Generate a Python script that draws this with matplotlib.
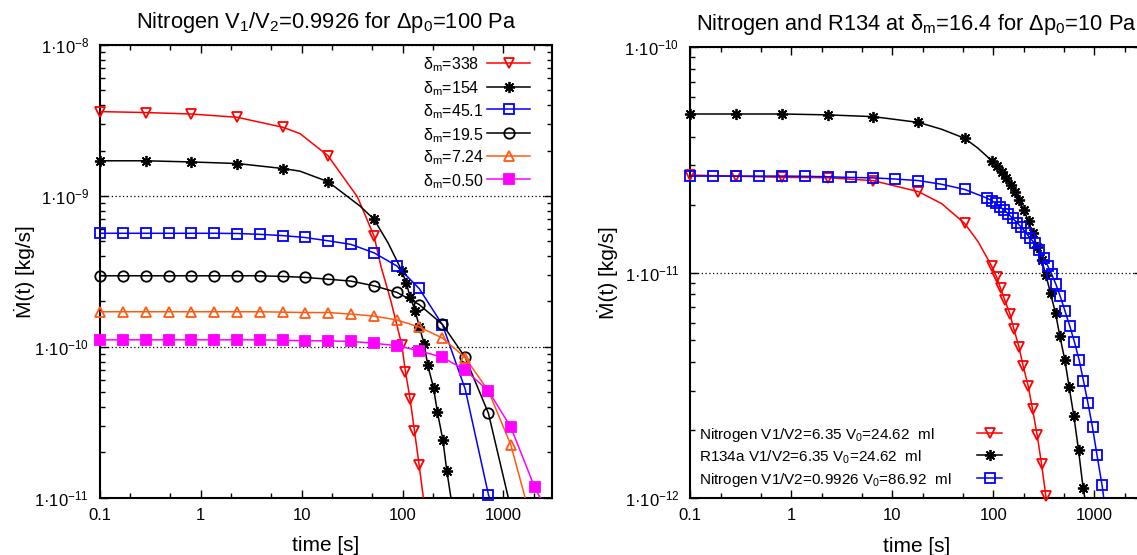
import numpy as np
import matplotlib
matplotlib.use("Agg")
import matplotlib.pyplot as plt
from matplotlib.ticker import LogLocator, NullFormatter

plt.rcParams['font.family'] = ['Liberation Sans', 'DejaVu Sans']
plt.rcParams['mathtext.fontset'] = 'custom'
plt.rcParams['mathtext.rm'] = 'Liberation Sans'
plt.rcParams['mathtext.default'] = 'regular'

# common sampling times of the measurements [s]
t_grid = [0.1, 0.169, 0.284, 0.48, 0.807, 1.36, 2.3, 3.87, 6.52, 10.7,
          18.2, 30.7, 52.2, 87.7, 146, 249, 418, 711, 1186, 2037]
t_even = t_grid[0:13:2]

# ---- left panel: nitrogen, V1/V2=0.9926, dp0=100 Pa
t_338 = t_even + [98.4, 106.9, 118.9, 131.2, 146.2]
m_338 = [3.62e-9, 3.57e-9, 3.49e-9, 3.32e-9, 2.85e-9, 1.85e-9, 5.42e-10,
         1.03e-10, 6.85e-11, 4.50e-11, 2.79e-11, 1.64e-11]

t_154 = t_even + [98.4, 108.6, 118.9, 133.4, 147.2, 163.7, 177.8, 202.8,
                  221.8, 251.2, 274.8]
m_154 = [1.71e-9, 1.71e-9, 1.68e-9, 1.64e-9, 1.52e-9, 1.245e-9, 7.0e-10,
         3.19e-10, 2.66e-10, 2.15e-10, 1.73e-10, 1.355e-10, 1.045e-10,
         7.59e-11, 5.37e-11, 3.69e-11, 2.42e-11, 1.51e-11]

t_451 = t_grid[:18]
m_451 = [5.66e-10, 5.66e-10, 5.66e-10, 5.66e-10, 5.66e-10, 5.66e-10,
         5.64e-10, 5.57e-10, 5.46e-10, 5.31e-10, 5.05e-10, 4.78e-10,
         4.20e-10, 3.44e-10, 2.44e-10, 1.40e-10, 5.26e-11, 1.05e-11]

t_195 = t_grid[:18]
m_195 = [2.96e-10, 2.96e-10, 2.96e-10, 2.96e-10, 2.96e-10, 2.96e-10,
         2.96e-10, 2.96e-10, 2.93e-10, 2.89e-10, 2.81e-10, 2.73e-10,
         2.54e-10, 2.30e-10, 1.91e-10, 1.41e-10, 8.53e-11, 3.63e-11]

t_724 = t_grid[:19]
m_724 = [1.71e-10, 1.71e-10, 1.71e-10, 1.71e-10, 1.71e-10, 1.71e-10,
         1.71e-10, 1.71e-10, 1.70e-10, 1.69e-10, 1.69e-10, 1.65e-10,
         1.60e-10, 1.51e-10, 1.355e-10, 1.145e-10, 8.49e-11, 5.11e-11,
         2.24e-11]

t_050 = t_grid[:20]
m_050 = [1.114e-10, 1.114e-10, 1.114e-10, 1.114e-10, 1.114e-10, 1.114e-10,
         1.114e-10, 1.114e-10, 1.107e-10, 1.10e-10, 1.096e-10, 1.089e-10,
         1.057e-10, 1.019e-10, 9.44e-11, 8.53e-11, 7.03e-11, 5.11e-11,
         2.94e-11, 1.18e-11]

# extra points on the fitted curves where the markers are sparse
fit_338 = ([9.6, 35.7, 61.2, 76.3], [2.59e-9, 9.86e-10, 3.40e-10, 2.04e-10])
fit_154 = ([9.6, 37.9, 72.3], [1.46e-9, 8.57e-10, 4.85e-10])

# time where each fitted curve leaves the bottom of the frame
left_tail = [161, 302, 730, 1120, 1644, 2317]
left_labels = ["δ$_m$=338", "δ$_m$=154", "δ$_m$=45.1", "δ$_m$=19.5",
               "δ$_m$=7.24", "δ$_m$=0.50"]

# ---- right panel: nitrogen and R134a at delta_m=16.4, dp0=10 Pa
t_n2 = t_even + [96.4, 108.1, 118.3, 130.6, 146.6, 160.7, 179.9, 198.2,
                 222.3, 245.5, 272.9, 301.3, 332.7]
m_n2 = [2.70e-11, 2.67e-11, 2.64e-11, 2.63e-11, 2.55e-11, 2.28e-11,
        1.65e-11, 1.07e-11, 9.57e-12, 8.51e-12, 7.53e-12, 6.55e-12,
        5.60e-12, 4.69e-12, 3.85e-12, 3.14e-12, 2.48e-12, 1.90e-12,
        1.42e-12, 1.02e-12]

t_r134 = t_even + [96.4, 108.1, 121.1, 133.7, 148.6, 164.1, 180.7, 201.4,
                   223.9, 245.5, 272.9, 301.3, 332.7, 369.8, 415, 457, 513,
                   565, 630, 701, 778]
m_r134 = [5.035e-11, 5.035e-11, 5.035e-11, 4.99e-11, 4.90e-11, 4.62e-11,
          3.93e-11, 3.13e-11, 2.96e-11, 2.79e-11, 2.63e-11, 2.44e-11,
          2.28e-11, 2.09e-11, 1.89e-11, 1.69e-11, 1.49e-11, 1.30e-11,
          1.14e-11, 9.75e-12, 8.09e-12, 6.59e-12, 5.24e-12, 4.09e-12,
          3.12e-12, 2.31e-12, 1.63e-12, 1.11e-12]

t_n2b = t_grid[:13] + [87.3, 96.4, 106.4, 116.9, 128.2, 141.3, 155.6, 172.2,
                       190.5, 210.9, 233.3, 258.2, 285.8, 316.2, 346.7, 380.2,
                       418.8, 461.3, 512.9, 572.8, 636.8, 711.2, 783.4, 867.0,
                       963.9, 1066, 1199]
m_n2b = [2.673e-11, 2.673e-11, 2.673e-11, 2.673e-11, 2.673e-11, 2.667e-11,
         2.655e-11, 2.636e-11, 2.624e-11, 2.594e-11, 2.553e-11, 2.46e-11,
         2.333e-11, 2.133e-11, 2.080e-11, 2.023e-11, 1.954e-11, 1.892e-11,
         1.816e-11, 1.738e-11, 1.663e-11, 1.585e-11, 1.500e-11, 1.416e-11,
         1.346e-11, 1.259e-11, 1.161e-11, 1.072e-11, 9.82e-12, 8.85e-12,
         7.85e-12, 6.78e-12, 5.81e-12, 4.94e-12, 4.09e-12, 3.32e-12,
         2.65e-12, 2.06e-12, 1.56e-12, 1.14e-12]

fit_n2 = ([30.8, 70.8], [2.02e-11, 1.37e-11])
fit_r134 = ([30.8, 70.8], [4.31e-11, 3.55e-11])

right_tail = [None, 810, 1247]
right_labels = ["Nitrogen V1/V2=6.35 V$_0$=24.62  ml",
                "R134a V1/V2=6.35 V$_0$=24.62  ml",
                "Nitrogen V1/V2=0.9926 V$_0$=86.92  ml"]

x_ticks = [0.1, 1, 10, 100, 1000]
x_tick_labels = ["0.1", "1", "10", "100", "1000"]

left_styles = [
    dict(color="#ff0000", marker="v", mfc="none", ms=7.5),
    dict(color="#000000", marker=(8, 2, 0), ms=8),
    dict(color="#0000ff", marker="s", mfc="none", ms=7.5),
    dict(color="#000000", marker="o", mfc="none", ms=7.5),
    dict(color="#ff5a14", marker="^", mfc="none", ms=7.5),
    dict(color="#ff00ff", marker="s", ms=7),
]
right_styles = [left_styles[0], left_styles[1], left_styles[2]]


def style_axes(ax, ylo, yhi):
    ax.set_xscale("log")
    ax.set_yscale("log")
    ax.set_xlim(0.1, 3000)
    ax.set_ylim(ylo, yhi)
    ax.set_xticks(x_ticks)
    ax.set_xticklabels(x_tick_labels)
    ax.xaxis.set_minor_locator(LogLocator(base=10, subs=(2.0, 5.0), numticks=20))
    ax.xaxis.set_minor_formatter(NullFormatter())
    yt = [10.0 ** e for e in range(int(round(np.log10(ylo))), int(round(np.log10(yhi))) + 1)]
    ax.set_yticks(yt)
    ax.set_yticklabels(["1·10$^{%d}$" % int(round(np.log10(v))) for v in yt])
    ax.yaxis.set_minor_locator(LogLocator(base=10, subs=np.arange(2, 10), numticks=20))
    ax.yaxis.set_minor_formatter(NullFormatter())
    ax.tick_params(which="both", direction="in", top=True, right=True, width=1)
    ax.tick_params(which="major", length=6)
    ax.tick_params(which="minor", length=3.3)
    ax.tick_params(axis="x", labelsize=12, pad=7)
    ax.tick_params(axis="y", labelsize=12, pad=8)
    ax.yaxis.grid(True, which="major", linestyle=(0, (1, 2)), color="black", lw=0.9)
    for s in ax.spines.values():
        s.set_linewidth(1.5)
    ax.set_xlabel("time [s]", fontsize=15)
    ax.set_ylabel("Ṁ(t) [kg/s]", fontsize=15)
    ax.xaxis.set_label_coords(0.5, -0.085)


def draw_series(ax, t, m, style, tail, floor, fit=None):
    # fitted curve: measured points plus extra curve points, run to the frame
    lt, lm = list(t), list(m)
    if fit is not None:
        lt += fit[0]
        lm += fit[1]
    order = np.argsort(lt)
    lt = list(np.array(lt)[order])
    lm = list(np.array(lm)[order])
    if tail is not None:
        lt.append(tail)
        lm.append(floor)
    ax.plot(lt, lm, color=style["color"], lw=1.1, zorder=3)
    ax.plot(t, m, ls="none", mew=1.3, clip_on=False, zorder=3, **style)


def draw_key(ax, labels, styles, x_text, x_line, rows, fontsize):
    for lab, st, y in zip(labels, styles, rows):
        ax.text(x_text, y, lab, transform=ax.transAxes, fontsize=fontsize,
                ha="left", va="center_baseline")
        xm = 0.5 * (x_line[0] + x_line[1])
        ax.plot([x_line[0], xm, x_line[1]], [y, y, y], transform=ax.transAxes,
                lw=1.1, mew=1.3, markevery=[1], clip_on=False, **st)


fig = plt.figure(figsize=(11.37, 5.55), dpi=100)
ax1 = fig.add_axes([100 / 1137, 57.1 / 555, 451.5 / 1137, 452.9 / 555])
ax2 = fig.add_axes([690.3 / 1137, 56.7 / 555, 452 / 1137, 451.6 / 555])

style_axes(ax1, 1e-11, 1e-8)
left_t = [t_338, t_154, t_451, t_195, t_724, t_050]
left_m = [m_338, m_154, m_451, m_195, m_724, m_050]
left_fit = [fit_338, fit_154, None, None, None, None]
for t, m, st, tail, fit in zip(left_t, left_m, left_styles, left_tail, left_fit):
    draw_series(ax1, t, m, st, tail, 1e-11, fit)
ax1.set_title("Nitrogen V$_1$/V$_2$=0.9926 for Δp$_0$=100 Pa", fontsize=15.75, pad=12)
ax1.yaxis.set_label_coords(-0.145, 0.5)
draw_key(ax1, left_labels, left_styles, 0.716, (0.857, 0.953),
         [0.961, 0.908, 0.858, 0.806, 0.756, 0.704], 11.5)

style_axes(ax2, 1e-12, 1e-10)
right_t = [t_n2, t_r134, t_n2b]
right_m = [m_n2, m_r134, m_n2b]
right_fit = [fit_n2, fit_r134, None]
for t, m, st, tail, fit in zip(right_t, right_m, right_styles, right_tail, right_fit):
    draw_series(ax2, t, m, st, tail, 1e-12, fit)
ax2.set_title("Nitrogen and R134 at δ$_m$=16.4 for Δp$_0$=10 Pa", fontsize=15.75, pad=12)
ax2.yaxis.set_label_coords(-0.16, 0.5)
draw_key(ax2, right_labels, right_styles, 0.0192, (0.635, 0.689),
         [0.145, 0.095, 0.045], 11)

fig.savefig("out.png", dpi=100)
